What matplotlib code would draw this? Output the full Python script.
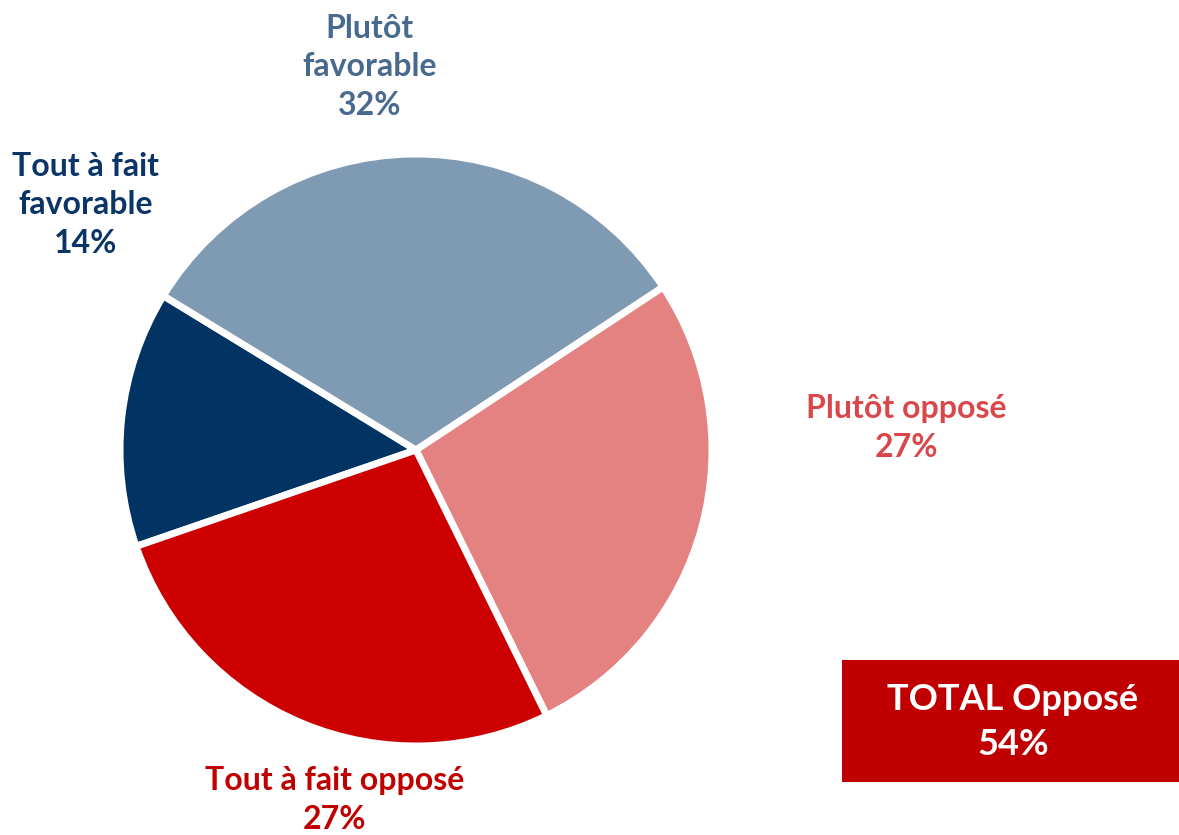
import matplotlib
matplotlib.use("Agg")
import matplotlib.pyplot as plt
from matplotlib.patches import Rectangle

categories = ["Tout à fait favorable", "Plutôt favorable", "Plutôt opposé", "Tout à fait opposé"]
values = [14, 32, 27, 27]
label_texts = ["Tout à fait\nfavorable\n14%", "Plutôt\nfavorable\n32%", "Plutôt opposé\n27%", "Tout à fait opposé\n27%"]
total_label = "TOTAL Opposé\n54%"

slice_colors = ["#023463", "#7F9AB3", "#E48282", "#CC0000"]
text_colors = ["#0A3566", "#476A8E", "#D9474B", "#C00000"]

W, H = 1179, 835
fig = plt.figure(figsize=(W / 100, H / 100), dpi=100)
ax = fig.add_axes([0, 0, 1, 1])
ax.set_xlim(0, W)
ax.set_ylim(0, H)
ax.set_aspect("equal")
ax.axis("off")

cx, cy, r = 416, H - 450, 296
ax.pie(values, colors=slice_colors, startangle=199, counterclock=False,
       center=(cx, cy), radius=r, frame=True,
       wedgeprops=dict(edgecolor="white", linewidth=5))
ax.set_xlim(0, W)
ax.set_ylim(0, H)
ax.axis("off")

font = dict(family=["Lato", "DejaVu Sans"], fontweight="bold", fontsize=23)
positions = [(86, 205), (370, 67), (906, 428), (335, 800)]
for txt, col, (x, y) in zip(label_texts, text_colors, positions):
    ax.text(x, H - y, txt, color=col, ha="center", va="center",
            linespacing=1.38, **font)

ax.add_patch(Rectangle((842, H - 782), W - 842, 122, facecolor="#C00000", edgecolor="none"))
ax.text(1013, H - 722, total_label, color="white", ha="center", va="center",
        linespacing=1.45, family=["Lato", "DejaVu Sans"], fontweight="bold", fontsize=26)

fig.savefig("out.png", dpi=100)
